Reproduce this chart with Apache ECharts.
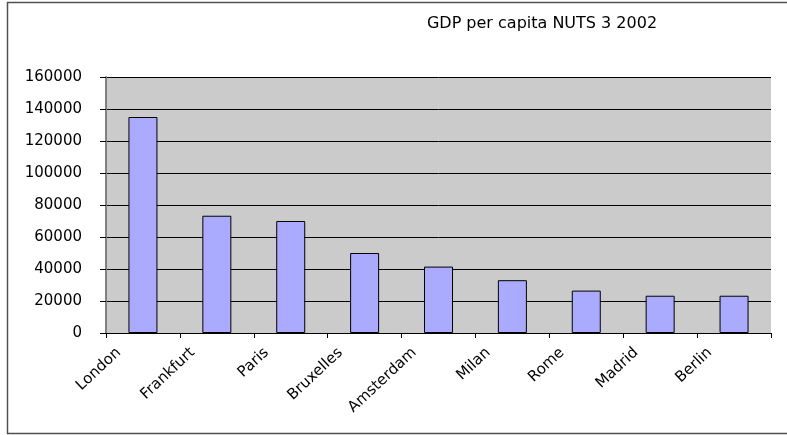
<!DOCTYPE html>
<html><head><meta charset="utf-8">
<script src="https://cdn.jsdelivr.net/npm/echarts@6/dist/echarts.min.js"></script>
<style>html,body{margin:0;padding:0;background:#fff}#c{width:787px;height:435px}</style>
</head><body><div id="c"></div>
<script>
const titleText = 'GDP per capita NUTS 3 2002';
const categories = ['London','Frankfurt','Paris','Bruxelles','Amsterdam','Milan','Rome','Madrid','Berlin'];
const gdpValues = [135000, 73300, 70000, 50000, 41500, 33000, 26500, 23300, 23300];
const yTicks = [0, 20000, 40000, 60000, 80000, 100000, 120000, 140000, 160000];

const chart = echarts.init(document.getElementById('c'));
const font = 'DejaVu Sans';
chart.setOption({
  animation: false,
  backgroundColor: '#ffffff',
  title: {
    text: titleText, left: 537, top: 11, textAlign: 'center',
    textStyle: {fontFamily: font, fontSize: 16, fontWeight: 'normal', color: '#000'}
  },
  graphic: [{
    type: 'rect', left: 5, top: 0, shape: {x: 0.5, y: 0.5, width: 781, height: 431},
    style: {fill: 'none', stroke: '#505050', lineWidth: 1.5}, silent: true, z: -1
  }],
  grid: {left: 106, right: 16, top: 77, bottom: 102, show: true, backgroundColor: '#cbcbcb', borderWidth: 0},
  xAxis: {
    type: 'category', data: categories,
    axisLine: {show: true, lineStyle: {color: '#000', width: 1}},
    axisTick: {show: true, length: 5, lineStyle: {color: '#000'}},
    axisLabel: {rotate: 43, margin: -5, padding: [0, 33, 0, 0], fontFamily: font, fontSize: 15, color: '#000', interval: 0}
  },
  yAxis: {
    type: 'value', min: yTicks[0], max: yTicks[yTicks.length - 1], interval: 20000,
    axisLine: {show: true, lineStyle: {color: '#808080', width: 2}},
    axisTick: {show: true, length: 6, lineStyle: {color: '#000'}},
    axisLabel: {fontFamily: font, fontSize: 15, color: '#000', margin: 24, formatter: v => String(v)},
    splitLine: {show: true, lineStyle: {color: '#000', width: 1}}
  },
  series: [{
    type: 'bar', data: gdpValues, barWidth: 29,
    itemStyle: {color: '#aaaaff', borderColor: '#000', borderWidth: 1}
  }]
});
</script></body></html>
